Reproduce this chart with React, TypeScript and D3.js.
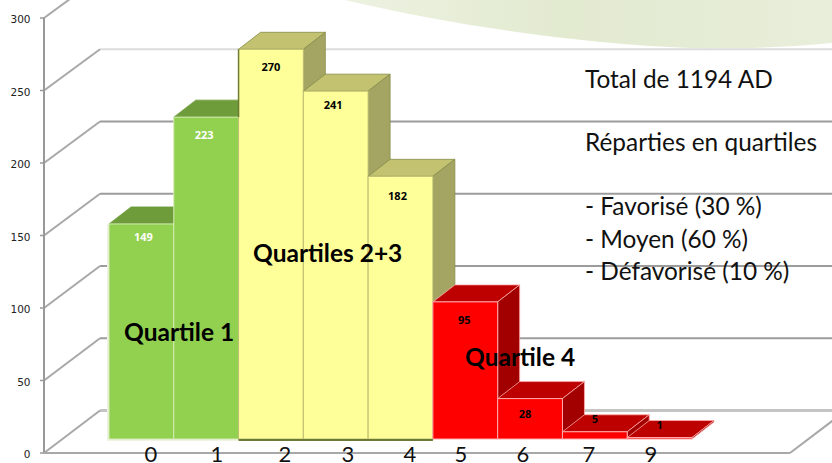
import * as d3 from "d3"

const categories = ["0", "1", "2", "3", "4", "5", "6", "7", "9"]
const values = [149, 223, 270, 241, 182, 95, 28, 5, 1]
const quartileOfBar = [1, 1, 2, 2, 2, 4, 4, 4, 4]
const yTicks = [0, 50, 100, 150, 200, 250, 300]
const infoLines = ["Total de 1194 AD", "Réparties en quartiles", "- Favorisé (30 %)", "- Moyen (60 %)", "- Défavorisé (10 %)"]
const infoBaselines = [88, 151, 215, 248, 280]
const quartileNames = ["Quartile 1", "Quartiles 2+3", "Quartile 4"]
const quartileSpots = [[124, 341], [253, 262], [465, 366]]
// the category labels were typed over the chart, they do not line up with the bars
const categoryLabelX = [151, 217, 285, 348, 410, 461, 523, 589, 651]
// value labels were nudged by hand in the original too
const labelDx = [2, -2, 0, -2.5, -3, -1, -5, 0, 0]
const labelDy = [13, 18, 18, 14, 20, 18, 16, -13, -12]

const width = 832
const height = 463
const depthX = 22
const depthY = 17

const palette: Record<number, any> = {
  1: { front: "#92d050", top: "#6f9c3b", side: "#6f9c3b", stroke: "#d5ebb5", edge: "#6f9c3b", label: "#ffffff" },
  2: { front: "#ffff99", top: "#c2c270", side: "#a4a463", stroke: "#bcbc72", edge: "#858c48", label: "#000000" },
  4: { front: "#ff0000", top: "#bd0000", side: "#a20000", stroke: "#ffaaaa", edge: "#ffaaaa", label: "#000000" },
}

const x = d3.scaleBand<string>().domain(categories).range([109, 692]).paddingInner(0)
const yBar = d3.scaleLinear().domain([0, 300]).range([439, 6])
const yFront = d3.scaleLinear().domain([0, 300]).range([453, 18])
const yBack = d3.scaleLinear().domain([0, 300]).range([410.5, -23])
const backX = 100
const frontX = 44

const pts = (list: number[][]) => list.map((p) => p.join(",")).join(" ")

function gridColor(t: number) {
  if (t === 250) return "#dcdcdc"
  if (t === 0) return "#c4c4c4"
  return "#9c9c9c"
}

export default function App() {
  const bw = x.bandwidth()
  const greenLeft = x("0") as number
  const yellowLeft = x("2") as number

  return (
    <svg
      width={width}
      height={height}
      viewBox={`0 0 ${width} ${height}`}
      style={{ position: "fixed", left: 0, top: 0, display: "block", background: "#fff" }}
    >
      <defs>
        <linearGradient id="swoosh" x1="0" y1="0" x2="1" y2="0">
          <stop offset="0" stopColor="#edf2e1" />
          <stop offset="0.45" stopColor="#e2ead0" />
          <stop offset="1" stopColor="#e8eeda" />
        </linearGradient>
      </defs>

      <path d="M345,0 C450,25 580,44 690,48 C740,49 790,47 832,43 L832,0 Z" fill="url(#swoosh)" />

      {yTicks.map((t) => (
        <g key={t}>
          {t < 300 && (
            <line x1={backX} x2={width} y1={yBack(t)} y2={yBack(t)} stroke={gridColor(t)} strokeWidth={t === 0 ? 3 : 2} />
          )}
          <line x1={frontX} y1={yFront(t)} x2={backX} y2={yBack(t)} stroke="#a8a8a8" strokeWidth={2} />
          <line x1={frontX - 4} x2={frontX} y1={yFront(t)} y2={yFront(t)} stroke="#999" strokeWidth={1.5} />
          <text
            x={30.5}
            y={yFront(t) + 1.5}
            dy="0.35em"
            textAnchor="end"
            fontFamily="'DejaVu Sans'"
            fontSize={10.5}
            fill="#222"
          >
            {t}
          </text>
        </g>
      ))}
      <line x1={frontX} x2={frontX} y1={yFront(300)} y2={yFront(0)} stroke="#999" strokeWidth={2} />
      <line x1={frontX} x2={790} y1={yFront(0)} y2={yFront(0)} stroke="#a8a8a8" strokeWidth={2} />
      <line x1={790} y1={yFront(0)} x2={846} y2={yBack(0)} stroke="#a8a8a8" strokeWidth={2} />

      {/* pale shadow under the green bars */}
      <rect x={greenLeft - 2} y={yBar(149)} width={2} height={yBar(0) - yBar(149) + 2} fill="#eef3e2" />
      <rect x={greenLeft - 2} y={yBar(0)} width={bw * 2 + 2} height={2} fill="#eef3e2" />

      {/* drawn left to right so each bar hides the side face of the one before it */}
      {categories.map((c, i) => {
        const v = values[i]
        const col = palette[quartileOfBar[i]]
        const x0 = x(c) as number
        const x1 = x0 + bw
        const y0 = yBar(0)
        const y1 = yBar(v)
        return (
          <g key={c}>
            <polygon
              points={pts([[x0, y1], [x0 + depthX, y1 - depthY], [x1 + depthX, y1 - depthY], [x1, y1]])}
              fill={col.top}
              stroke={col.edge}
              strokeWidth={0.8}
            />
            <polygon
              points={pts([[x1, y1], [x1 + depthX, y1 - depthY], [x1 + depthX, y0 - depthY], [x1, y0]])}
              fill={col.side}
              stroke={col.edge}
              strokeWidth={0.8}
            />
            <rect x={x0} y={y1} width={bw} height={y0 - y1} fill={col.front} stroke={col.stroke} strokeWidth={1} />
          </g>
        )
      })}

      {/* dark foot and left edge of the yellow group */}
      <line x1={yellowLeft} x2={(x("4") as number) + bw} y1={yBar(0) + 1} y2={yBar(0) + 1} stroke="#6b7a35" strokeWidth={2} />
      <line x1={yellowLeft} x2={yellowLeft} y1={yBar(270)} y2={yBar(223)} stroke="#6b7a35" strokeWidth={1.5} />

      {categories.map((c, i) => {
        const v = values[i]
        const col = palette[quartileOfBar[i]]
        return (
          <text
            key={c}
            x={(x(c) as number) + bw / 2 + labelDx[i]}
            y={yBar(v) + labelDy[i]}
            dy="0.35em"
            textAnchor="middle"
            fontFamily="'Open Sans'"
            fontWeight={700}
            fontSize={11}
            fill={col.label}
          >
            {v}
          </text>
        )
      })}

      {categories.map((c, i) => (
        <text key={c} x={categoryLabelX[i]} y={462} textAnchor="middle" fontFamily="Lato" fontSize={22} fill="#111">
          {c}
        </text>
      ))}

      {quartileNames.map((name, i) => (
        <text
          key={name}
          x={quartileSpots[i][0]}
          y={quartileSpots[i][1]}
          fontFamily="Lato"
          fontWeight={700}
          fontSize={24.5}
          fill="#000"
        >
          {name}
        </text>
      ))}

      {infoLines.map((line, i) => (
        <text key={line} x={585} y={infoBaselines[i]} fontFamily="Lato" fontSize={24.4} fill="#111">
          {line}
        </text>
      ))}
    </svg>
  )
}
